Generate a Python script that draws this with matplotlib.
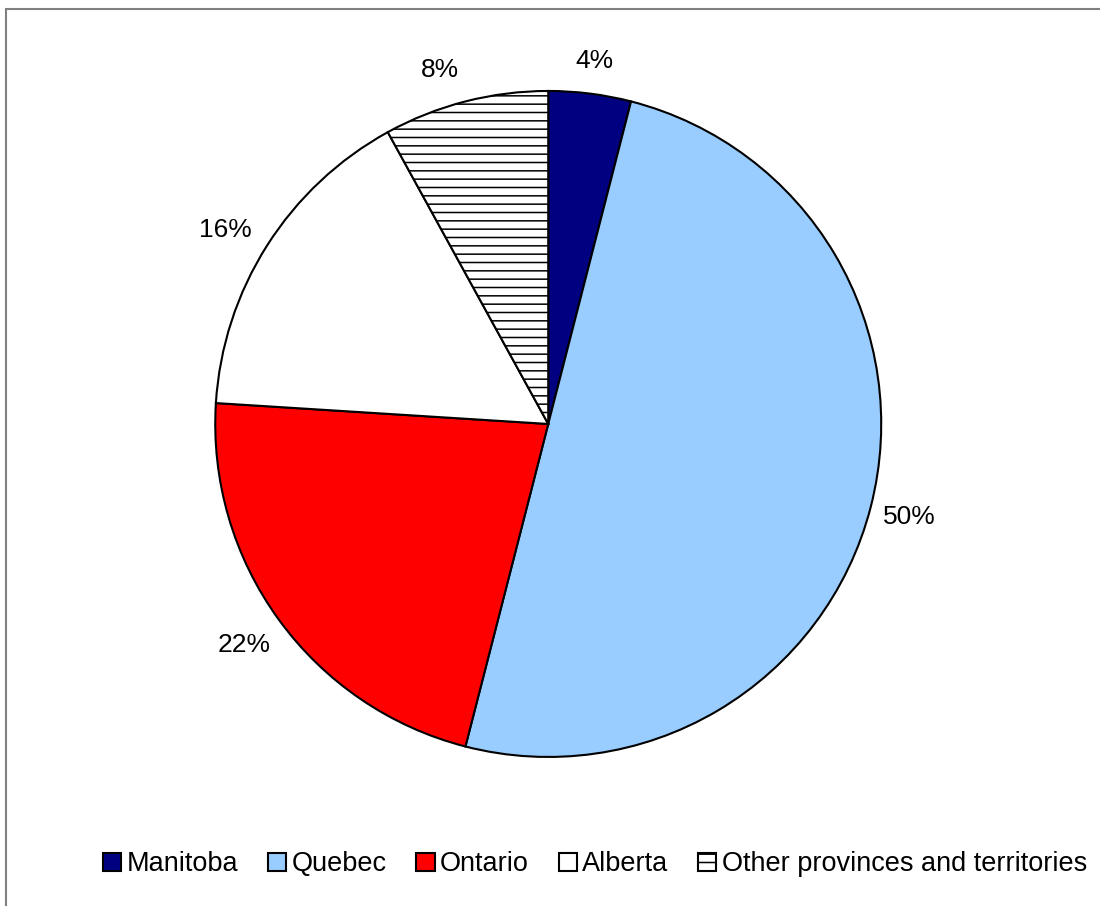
import matplotlib
matplotlib.use('Agg')
import matplotlib.pyplot as plt
import numpy as np
from matplotlib.patches import Patch, Rectangle

plt.rcParams['font.family'] = ['Liberation Sans', 'DejaVu Sans']
plt.rcParams['hatch.linewidth'] = 1.1

provinces = ['Manitoba', 'Quebec', 'Ontario', 'Alberta', 'Other provinces and territories']
shares = [4, 50, 22, 16, 8]
colors = ['#000080', '#99ccff', '#ff0000', '#ffffff', '#ffffff']
hatches = [None, None, None, None, '--']

# label placement: radius (in pie radii) and angular nudge (deg) per slice
label_r = [1.10, 1.12, 1.13, 1.13, 1.11]
label_nudge = [0, 0, 0, 1.4, 2.6]

fig = plt.figure(figsize=(11, 9.06), dpi=100)
ax = fig.add_axes([0.12, 0.0726, 0.7568, 0.9189])

wedges, _ = ax.pie(shares, colors=colors, startangle=90, counterclock=False,
                   wedgeprops=dict(edgecolor='black', linewidth=1.5))
for w, h in zip(wedges, hatches):
    if h:
        w.set_hatch(h)

for w, v, r, dn in zip(wedges, shares, label_r, label_nudge):
    ang = np.deg2rad((w.theta1 + w.theta2) / 2 + dn)
    ax.text(r * np.cos(ang), r * np.sin(ang), f'{v}%', ha='center', va='center',
            fontsize=19, clip_on=False)

ax.set_xlim(-1.25, 1.25)
ax.set_ylim(-1.25, 1.25)
ax.set_aspect('equal')
ax.axis('off')

handles = [Patch(facecolor=c, edgecolor='black', linewidth=1.5, hatch=h)
           for c, h in zip(colors, hatches)]
fig.legend(handles, provinces, loc='center', bbox_to_anchor=(0.541, 0.046),
           ncol=5, frameon=False, fontsize=19.5, handlelength=0.67,
           handleheight=0.67, handletextpad=0.2, columnspacing=1.1,
           borderpad=0)

# outer chart frame (only top and left edges fall inside the image)
fig.add_artist(Rectangle((6 / 1100, -0.05), 1.1, 1.05 - 9.5 / 906,
                         transform=fig.transFigure, fill=False,
                         edgecolor='#808080', linewidth=1.5))

fig.savefig('out.png', dpi=100)
